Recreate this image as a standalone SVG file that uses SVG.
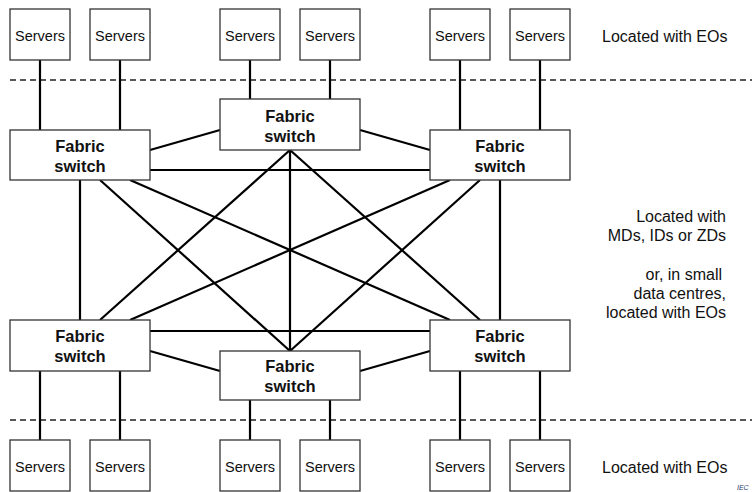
<svg xmlns="http://www.w3.org/2000/svg" width="752" height="492" viewBox="0 0 752 492">
<style>
.box{fill:#fff;stroke:#333;stroke-width:1.3}
.srv{font-family:"Liberation Sans",Arial,sans-serif;font-size:14.5px;fill:#111;text-anchor:middle}
.fs{font-family:"Liberation Sans",Arial,sans-serif;font-size:16.5px;font-weight:bold;fill:#111;text-anchor:middle}
.lbl{font-family:"Liberation Sans",Arial,sans-serif;font-size:16px;fill:#111}
.ln{stroke:#000;stroke-width:2.2;fill:none}
.dash{stroke:#222;stroke-width:1.3;stroke-dasharray:6 4;fill:none}
</style>
<rect width="752" height="492" fill="#fff"/>
<g id="dividers">
<line class="dash" x1="10" y1="80" x2="752" y2="80"/>
<line class="dash" x1="10" y1="420" x2="752" y2="420"/>
</g>
<g id="connectors">
<line class="ln" x1="40" y1="60" x2="40" y2="130"/>
<line class="ln" x1="120" y1="60" x2="120" y2="130"/>
<line class="ln" x1="250" y1="60" x2="250" y2="99"/>
<line class="ln" x1="330" y1="60" x2="330" y2="99"/>
<line class="ln" x1="460" y1="60" x2="460" y2="130"/>
<line class="ln" x1="540" y1="60" x2="540" y2="130"/>
<line class="ln" x1="40" y1="371" x2="40" y2="440"/>
<line class="ln" x1="120" y1="371" x2="120" y2="440"/>
<line class="ln" x1="250" y1="400" x2="250" y2="440"/>
<line class="ln" x1="330" y1="400" x2="330" y2="440"/>
<line class="ln" x1="460" y1="371" x2="460" y2="440"/>
<line class="ln" x1="540" y1="371" x2="540" y2="440"/>
<line class="ln" x1="150" y1="150" x2="220" y2="130"/>
<line class="ln" x1="360" y1="130" x2="430" y2="150"/>
<line class="ln" x1="150" y1="170" x2="430" y2="170"/>
<line class="ln" x1="150" y1="331" x2="430" y2="331"/>
<line class="ln" x1="150" y1="351" x2="220" y2="371"/>
<line class="ln" x1="360" y1="371" x2="430" y2="351"/>
<line class="ln" x1="80" y1="180" x2="80" y2="320"/>
<line class="ln" x1="500" y1="180" x2="500" y2="320"/>
<line class="ln" x1="290" y1="150" x2="290" y2="351"/>
<line class="ln" x1="290" y1="150" x2="100" y2="320"/>
<line class="ln" x1="290" y1="150" x2="480" y2="320"/>
<line class="ln" x1="100" y1="180" x2="290" y2="351"/>
<line class="ln" x1="480" y1="180" x2="290" y2="351"/>
<line class="ln" x1="130" y1="180" x2="450" y2="320"/>
<line class="ln" x1="450" y1="180" x2="130" y2="320"/>
</g>
<g id="srv-t1"><rect class="box" x="10" y="9" width="60" height="51"/><text class="srv" x="40" y="41">Servers</text></g>
<g id="srv-t2"><rect class="box" x="90" y="9" width="60" height="51"/><text class="srv" x="120" y="41">Servers</text></g>
<g id="srv-t3"><rect class="box" x="220" y="9" width="60" height="51"/><text class="srv" x="250" y="41">Servers</text></g>
<g id="srv-t4"><rect class="box" x="300" y="9" width="60" height="51"/><text class="srv" x="330" y="41">Servers</text></g>
<g id="srv-t5"><rect class="box" x="430" y="9" width="60" height="51"/><text class="srv" x="460" y="41">Servers</text></g>
<g id="srv-t6"><rect class="box" x="510" y="9" width="60" height="51"/><text class="srv" x="540" y="41">Servers</text></g>
<g id="srv-b1"><rect class="box" x="10" y="440" width="60" height="51"/><text class="srv" x="40" y="472">Servers</text></g>
<g id="srv-b2"><rect class="box" x="90" y="440" width="60" height="51"/><text class="srv" x="120" y="472">Servers</text></g>
<g id="srv-b3"><rect class="box" x="220" y="440" width="60" height="51"/><text class="srv" x="250" y="472">Servers</text></g>
<g id="srv-b4"><rect class="box" x="300" y="440" width="60" height="51"/><text class="srv" x="330" y="472">Servers</text></g>
<g id="srv-b5"><rect class="box" x="430" y="440" width="60" height="51"/><text class="srv" x="460" y="472">Servers</text></g>
<g id="srv-b6"><rect class="box" x="510" y="440" width="60" height="51"/><text class="srv" x="540" y="472">Servers</text></g>
<g id="fs-tl"><rect class="box" x="10" y="130" width="140" height="50"/><text class="fs" x="80" y="152">Fabric</text><text class="fs" x="80" y="172">switch</text></g>
<g id="fs-tc"><rect class="box" x="220" y="99" width="140" height="51"/><text class="fs" x="290" y="122">Fabric</text><text class="fs" x="290" y="142">switch</text></g>
<g id="fs-tr"><rect class="box" x="430" y="130" width="140" height="50"/><text class="fs" x="500" y="152">Fabric</text><text class="fs" x="500" y="172">switch</text></g>
<g id="fs-bl"><rect class="box" x="10" y="320" width="140" height="51"/><text class="fs" x="80" y="342">Fabric</text><text class="fs" x="80" y="362">switch</text></g>
<g id="fs-bc"><rect class="box" x="220" y="351" width="140" height="49"/><text class="fs" x="290" y="372">Fabric</text><text class="fs" x="290" y="392">switch</text></g>
<g id="fs-br"><rect class="box" x="430" y="320" width="140" height="51"/><text class="fs" x="500" y="342">Fabric</text><text class="fs" x="500" y="362">switch</text></g>
<g id="labels">
<text class="lbl" x="602" y="42">Located with EOs</text>
<text class="lbl" x="726" y="222" text-anchor="end">Located with</text>
<text class="lbl" x="726" y="241" text-anchor="end">MDs, IDs or ZDs</text>
<text class="lbl" x="722" y="280" text-anchor="end">or, in small</text>
<text class="lbl" x="726" y="299" text-anchor="end">data centres,</text>
<text class="lbl" x="726" y="318" text-anchor="end">located with EOs</text>
<text class="lbl" x="602" y="473">Located with EOs</text>
<text x="737" y="490" font-family="Liberation Sans, Arial, sans-serif" font-size="7" font-style="italic" fill="#1f3a6e">IEC</text>
</g>
</svg>
